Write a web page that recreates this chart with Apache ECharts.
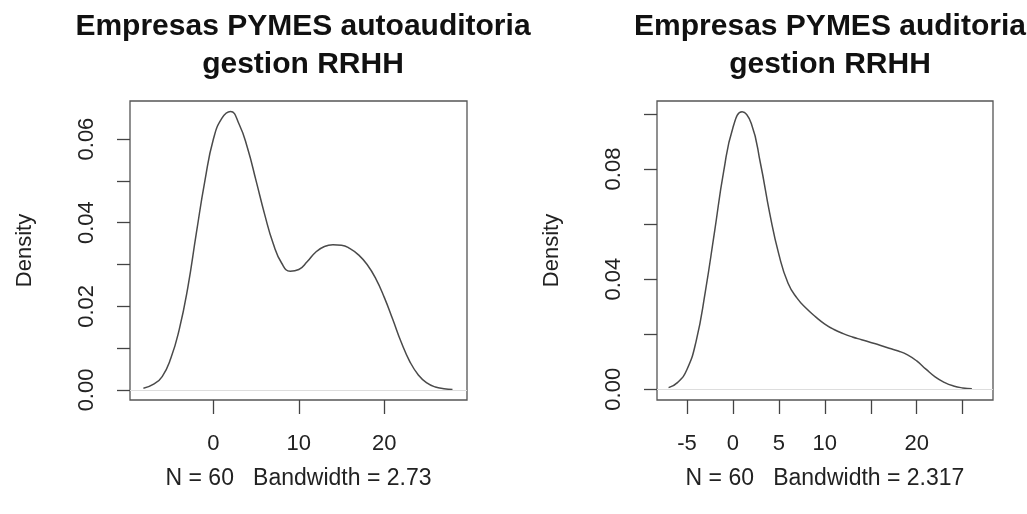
<!DOCTYPE html>
<html>
<head>
<meta charset="utf-8">
<script src="https://cdn.jsdelivr.net/npm/echarts@6/dist/echarts.min.js"></script>
<style>html,body{margin:0;padding:0;background:#fff}#c{width:1027px;height:514px}</style>
</head>
<body>
<div id="c"></div>
<script>
// Left panel: autoauditoria
const leftTitle = 'Empresas PYMES autoauditoria\ngestion RRHH';
const leftSub = 'N = 60   Bandwidth = 2.73';
const leftX = [-8.2, -7, -6, -5, -4, -3, -2, -1, 0, 1, 2, 3, 4, 5, 6, 7, 8, 9, 10, 11, 12, 13, 14, 15, 16, 17, 18, 19, 20, 21, 22, 23, 24, 25, 26, 27, 28];
const leftDensity = [0.0004, 0.0014, 0.0032, 0.0075, 0.0145, 0.0245, 0.0375, 0.0500, 0.0600, 0.0650, 0.0666, 0.0636, 0.0578, 0.0500, 0.0420, 0.0350, 0.0303, 0.0284, 0.0288, 0.0307, 0.0330, 0.0343, 0.0347, 0.0346, 0.0338, 0.0323, 0.0300, 0.0267, 0.0222, 0.0169, 0.0114, 0.0068, 0.0036, 0.0017, 0.0007, 0.0003, 0.0001];
const leftXTicks = [0, 10, 20];
const leftYTicks = [0, 0.01, 0.02, 0.03, 0.04, 0.05, 0.06];
const leftYLabels = [0, 0.02, 0.04, 0.06];

// Right panel: auditoria
const rightTitle = 'Empresas PYMES auditoria\ngestion RRHH';
const rightSub = 'N = 60   Bandwidth = 2.317';
const rightX = [-7, -6, -5, -4, -3, -2, -1, 0, 1, 2, 3, 4, 5, 6, 7, 8, 9, 10, 11, 12, 13, 14, 15, 16, 17, 18, 19, 20, 21, 22, 23, 24, 25, 26];
const rightDensity = [0.0006, 0.0025, 0.0072, 0.0175, 0.0355, 0.0572, 0.0792, 0.0950, 0.1008, 0.0965, 0.0820, 0.0640, 0.0490, 0.0385, 0.0330, 0.0293, 0.0263, 0.0237, 0.0217, 0.0202, 0.0190, 0.0180, 0.0170, 0.0160, 0.0149, 0.0139, 0.0125, 0.0103, 0.0073, 0.0045, 0.0025, 0.0012, 0.0005, 0.0002];
const rightXTicks = [-5, 0, 5, 10, 15, 20, 25];
const rightXLabels = [-5, 0, 5, 10, 20];
const rightYTicks = [0, 0.02, 0.04, 0.06, 0.08, 0.10];
const rightYLabels = [0, 0.04, 0.08];

const FONT = '"Liberation Sans", Arial, Helvetica, sans-serif';
const INK = '#222';
const LINE = '#4a4a4a';

function xAxisDef(idx, min, max, ticks, labels, name) {
  return {
    type: 'value', gridIndex: idx, min: min, max: max,
    splitLine: {show: false},
    axisLine: {show: false, onZero: false},
    axisTick: {show: true, customValues: ticks, length: 14, lineStyle: {color: '#444', width: 1.3}},
    axisLabel: {customValues: labels, margin: 33, fontSize: 22, color: INK, fontFamily: FONT},
    name: name, nameLocation: 'middle', nameGap: 67,
    nameTextStyle: {fontSize: 23, color: INK, fontFamily: FONT}
  };
}
function yAxisDef(idx, min, max, ticks, labels) {
  return {
    type: 'value', gridIndex: idx, min: min, max: max,
    splitLine: {show: false},
    axisLine: {show: false, onZero: false},
    axisTick: {show: true, customValues: ticks, length: 13, lineStyle: {color: '#444', width: 1.3}},
    axisLabel: {customValues: labels, rotate: 90, margin: 32, fontSize: 22, color: INK, fontFamily: FONT,
      formatter: v => Number(v).toFixed(2)},
    name: 'Density', nameLocation: 'middle', nameGap: 94,
    nameTextStyle: {fontSize: 22, color: INK, fontFamily: FONT}
  };
}
function zip(xs, ys) { return xs.map((x, i) => [x, ys[i]]); }

const chart = echarts.init(document.getElementById('c'), null, {renderer: 'canvas'});
chart.setOption({
  animation: false,
  backgroundColor: '#fff',
  title: [
    {text: leftTitle, left: 298, top: 3, textAlign: 'center',
     textStyle: {fontSize: 30, fontWeight: 'bold', color: '#111', lineHeight: 38, fontFamily: FONT}},
    {text: rightTitle, left: 825, top: 3, textAlign: 'center',
     textStyle: {fontSize: 30, fontWeight: 'bold', color: '#111', lineHeight: 38, fontFamily: FONT}}
  ],
  grid: [
    {left: 130, top: 101, width: 337, height: 299, show: true, borderColor: '#555', borderWidth: 1.3, backgroundColor: 'transparent'},
    {left: 657, top: 101, width: 336, height: 299, show: true, borderColor: '#555', borderWidth: 1.3, backgroundColor: 'transparent'}
  ],
  xAxis: [
    xAxisDef(0, -9.77, 29.7, leftXTicks, leftXTicks, leftSub),
    xAxisDef(1, -8.26, 28.3, rightXTicks, rightXLabels, rightSub)
  ],
  yAxis: [
    yAxisDef(0, -0.0024, 0.0691, leftYTicks, leftYLabels),
    yAxisDef(1, -0.0039, 0.1047, rightYTicks, rightYLabels)
  ],
  series: [
    {type: 'line', xAxisIndex: 0, yAxisIndex: 0, data: zip(leftX, leftDensity), smooth: 0.5, showSymbol: false,
     lineStyle: {color: LINE, width: 1.5},
     markLine: {silent: true, symbol: 'none', label: {show: false}, lineStyle: {color: '#dddddd', type: 'solid', width: 1}, data: [{yAxis: 0}]}},
    {type: 'line', xAxisIndex: 1, yAxisIndex: 1, data: zip(rightX, rightDensity), smooth: 0.5, showSymbol: false,
     lineStyle: {color: LINE, width: 1.5},
     markLine: {silent: true, symbol: 'none', label: {show: false}, lineStyle: {color: '#dddddd', type: 'solid', width: 1}, data: [{yAxis: 0}]}}
  ]
});
</script>
</body>
</html>
